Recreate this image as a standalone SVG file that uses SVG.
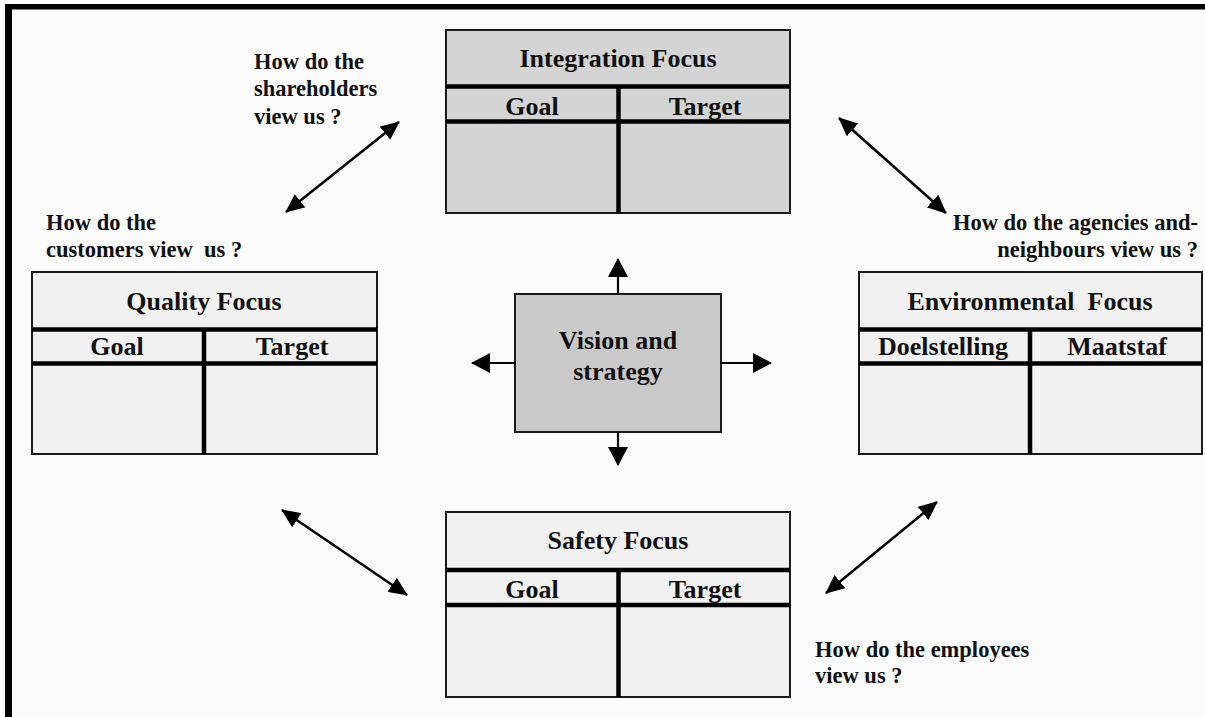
<svg xmlns="http://www.w3.org/2000/svg" width="1205" height="717" viewBox="0 0 1205 717">
  <style>
    .frame { fill: #000; }
    .box { stroke: #1a1a1a; stroke-width: 2; }
    .dark { fill: #d4d4d4; }
    .light { fill: #f1f1f1; }
    .core { fill: #c9c9c9; }
    .rule { stroke: #000; stroke-width: 4.5; fill: none; }
    .title { font-family: "Liberation Serif", "Times New Roman", serif; font-weight: bold; font-size: 26px; fill: #111; text-anchor: middle; }
    .note { font-family: "Liberation Serif", "Times New Roman", serif; font-weight: bold; font-size: 22.5px; fill: #111; white-space: pre; }
    .link { stroke: #000; stroke-width: 2.5; fill: none; }
    .spoke { stroke: #000; stroke-width: 2.2; fill: none; }
  </style>
  <defs>
    <marker id="head" markerUnits="userSpaceOnUse" viewBox="0 0 19 17" refX="18" refY="8.5" markerWidth="19" markerHeight="17" orient="auto-start-reverse">
      <path d="M0,0 L19,8.5 L0,17 Z" fill="#000"/>
    </marker>
    <marker id="spokehead" markerUnits="userSpaceOnUse" viewBox="0 0 19 20" refX="18" refY="10" markerWidth="19" markerHeight="20" orient="auto">
      <path d="M0,0 L19,10 L0,20 Z" fill="#000"/>
    </marker>
  </defs>

  <!-- page background and frame -->
  <rect x="0" y="0" width="1205" height="717" fill="#fbfbfb"/>
  <rect class="frame" x="5" y="4" width="1200" height="5.5"/>
  <rect class="frame" x="5" y="4" width="7" height="713"/>

  <!-- Integration Focus -->
  <g id="integration-focus">
    <rect class="box dark" x="446" y="30" width="344" height="183"/>
    <line class="rule" x1="446" y1="86.5" x2="790" y2="86.5"/>
    <line class="rule" x1="446" y1="121.5" x2="790" y2="121.5"/>
    <line class="rule" x1="618.5" y1="86.5" x2="618.5" y2="213"/>
    <text class="title" x="618" y="67">Integration Focus</text>
    <text class="title" x="532" y="115">Goal</text>
    <text class="title" x="705" y="115">Target</text>
  </g>

  <!-- Quality Focus -->
  <g id="quality-focus">
    <rect class="box light" x="32" y="272" width="345" height="182"/>
    <line class="rule" x1="32" y1="329.5" x2="377" y2="329.5"/>
    <line class="rule" x1="32" y1="363.5" x2="377" y2="363.5"/>
    <line class="rule" x1="204" y1="329.5" x2="204" y2="454"/>
    <text class="title" x="204" y="310">Quality Focus</text>
    <text class="title" x="117" y="355">Goal</text>
    <text class="title" x="292" y="355">Target</text>
  </g>

  <!-- Environmental Focus -->
  <g id="environmental-focus">
    <rect class="box light" x="859" y="272" width="343" height="182"/>
    <line class="rule" x1="859" y1="329.5" x2="1202" y2="329.5"/>
    <line class="rule" x1="859" y1="363.5" x2="1202" y2="363.5"/>
    <line class="rule" x1="1030" y1="329.5" x2="1030" y2="454"/>
    <text class="title" x="1030" y="310" xml:space="preserve">Environmental  Focus</text>
    <text class="title" x="943" y="355">Doelstelling</text>
    <text class="title" x="1117" y="355">Maatstaf</text>
  </g>

  <!-- Safety Focus -->
  <g id="safety-focus">
    <rect class="box light" x="446" y="512" width="344" height="185"/>
    <line class="rule" x1="446" y1="570" x2="790" y2="570"/>
    <line class="rule" x1="446" y1="605" x2="790" y2="605"/>
    <line class="rule" x1="618.5" y1="570" x2="618.5" y2="697"/>
    <text class="title" x="618" y="549">Safety Focus</text>
    <text class="title" x="532" y="598">Goal</text>
    <text class="title" x="705" y="598">Target</text>
  </g>

  <!-- Vision and strategy -->
  <g id="vision-strategy">
    <rect class="box core" x="515" y="294" width="206" height="138"/>
    <text class="title" x="618" y="349">Vision and</text>
    <text class="title" x="618" y="380">strategy</text>
  </g>

  <!-- stakeholder questions -->
  <g id="shareholders-question">
    <text class="note" x="254" y="69">How do the</text>
    <text class="note" x="254" y="96">shareholders</text>
    <text class="note" x="254" y="124">view us ?</text>
  </g>
  <g id="customers-question">
    <text class="note" x="46" y="230">How do the</text>
    <text class="note" x="46" y="257" xml:space="preserve">customers view  us ?</text>
  </g>
  <g id="agencies-question">
    <text class="note" x="1198" y="230" text-anchor="end">How do the agencies and-</text>
    <text class="note" x="1198" y="257" text-anchor="end">neighbours view us ?</text>
  </g>
  <g id="employees-question">
    <text class="note" x="815" y="657">How do the employees</text>
    <text class="note" x="815" y="683">view us ?</text>
  </g>

  <!-- connectors -->
  <g id="connectors">
    <line class="spoke" x1="618" y1="294" x2="618" y2="259" marker-end="url(#spokehead)"/>
    <line class="spoke" x1="618" y1="432" x2="618" y2="465" marker-end="url(#spokehead)"/>
    <line class="spoke" x1="515" y1="363" x2="472" y2="363" marker-end="url(#spokehead)"/>
    <line class="spoke" x1="721" y1="363" x2="771" y2="363" marker-end="url(#spokehead)"/>

    <line class="link" x1="286" y1="212" x2="399" y2="122" marker-start="url(#head)" marker-end="url(#head)"/>
    <line class="link" x1="839" y1="118" x2="946" y2="213" marker-start="url(#head)" marker-end="url(#head)"/>
    <line class="link" x1="282" y1="510" x2="407" y2="595" marker-start="url(#head)" marker-end="url(#head)"/>
    <line class="link" x1="826" y1="593" x2="937" y2="502" marker-start="url(#head)" marker-end="url(#head)"/>
  </g>
</svg>
